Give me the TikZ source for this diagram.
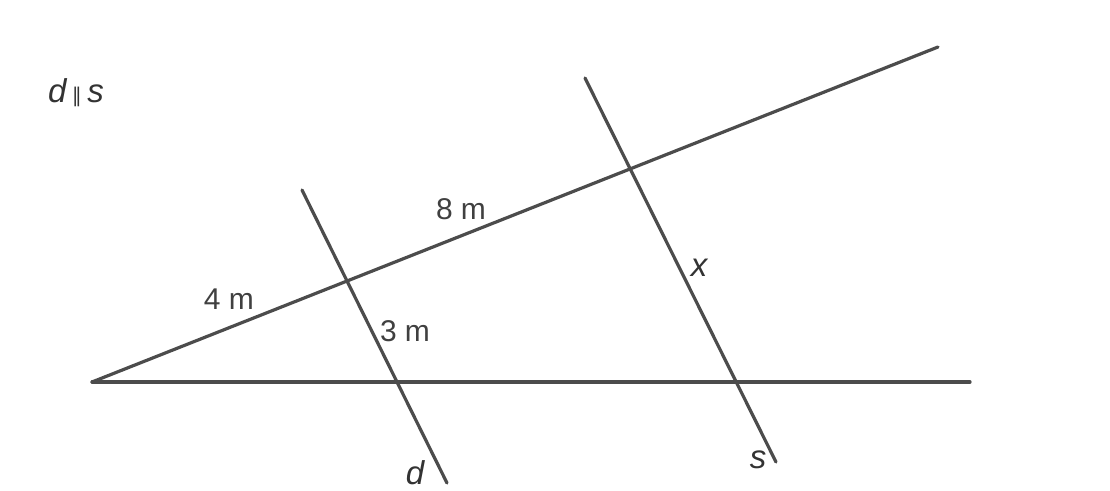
\documentclass[tikz,border=0pt]{standalone}
\usepackage{fontspec}
\setmainfont{Liberation Sans}
\newfontfamily\symfont{DejaVu Sans}
\begin{document}
\begin{tikzpicture}[x=1pt,y=-1pt,
  geoline/.style={line width=3.2pt,draw=black!70,line cap=round},
  numlbl/.style={inner sep=0pt,font=\fontsize{30}{30}\selectfont,text=black!75},
  varlbl/.style={inner sep=0pt,font=\fontsize{33}{33}\selectfont\itshape,text=black!80}]
\useasboundingbox (0,0) rectangle (1110,490);
% points
\coordinate (O) at (92,382);
\coordinate (H) at (970,382);
\coordinate (U) at (938,47);
\coordinate (dT) at (302,190);
\coordinate (dB) at (447,483);
\coordinate (sT) at (585,78);
\coordinate (sB) at (776,462);
% lines
\draw[geoline] (O) -- (H);
\draw[geoline] (O) -- (U);
\draw[geoline] (dT) -- (dB);
\draw[geoline] (sT) -- (sB);
% labels
\node[varlbl] (par) at (76,93) {d\,{\symfont\fontsize{20}{20}\selectfont\upshape ∥}\,s};
\node[numlbl] (l8) at (461,209) {8 m};
\node[numlbl] (l4) at (229,299) {4 m};
\node[numlbl] (l3) at (405,331) {3 m};
\node[varlbl] (lx) at (699,268) {x};
\node[varlbl] (ld) at (415,473) {d};
\node[varlbl] (ls) at (758,460) {s};
\end{tikzpicture}
\end{document}
